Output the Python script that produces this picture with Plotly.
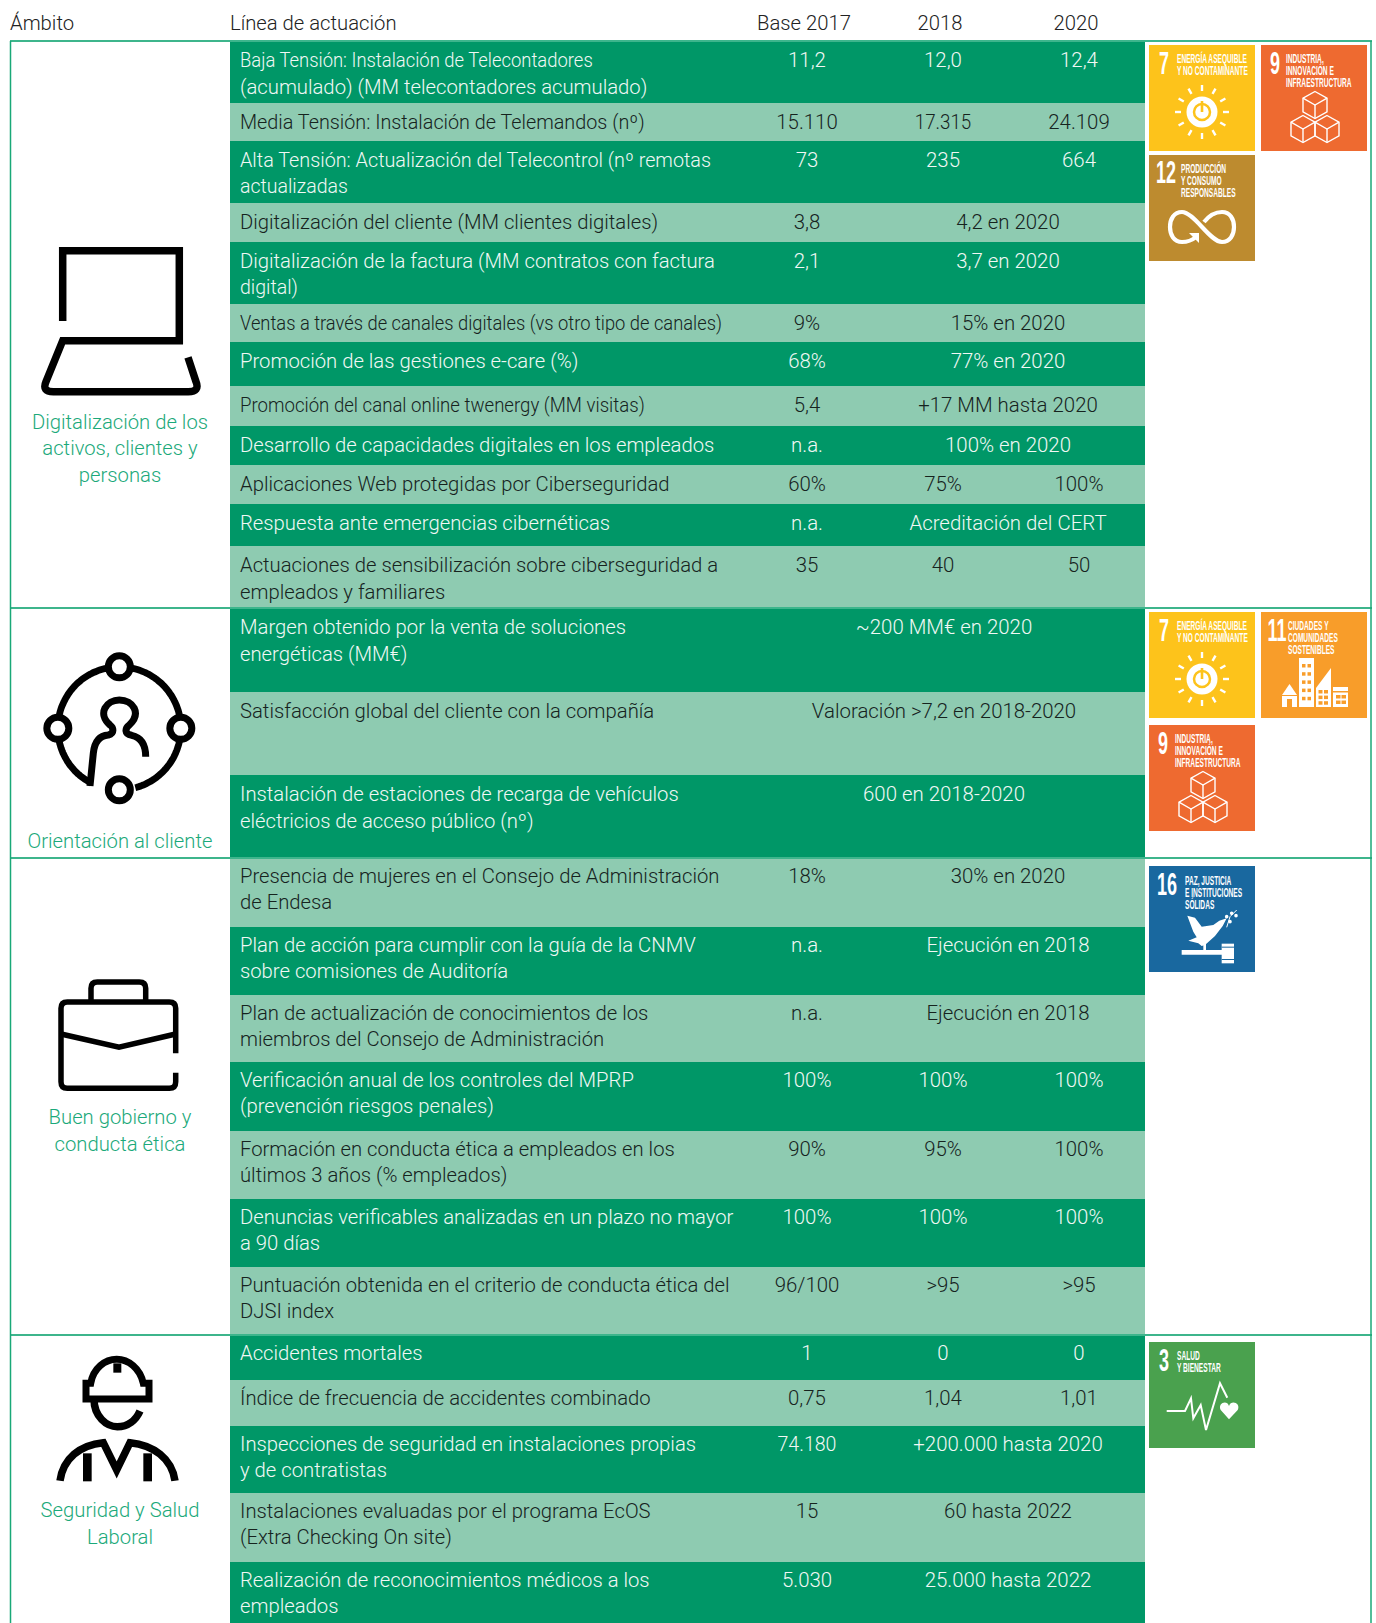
import json
import math
import plotly.graph_objects as go

# ---------- data ----------
headers = ["Ámbito", "Línea de actuación", "Base 2017", "2018", "2020"]
row_lines = [
    ["Baja Tensión: Instalación de Telecontadores", "(acumulado) (MM telecontadores acumulado)"],
    ["Media Tensión: Instalación de Telemandos (nº)"],
    ["Alta Tensión: Actualización del Telecontrol (nº remotas", "actualizadas"],
    ["Digitalización del cliente (MM clientes digitales)"],
    ["Digitalización de la factura (MM contratos con factura", "digital)"],
    ["Ventas a través de canales digitales (vs otro tipo de canales)"],
    ["Promoción de las gestiones e-care (%)"],
    ["Promoción del canal online twenergy (MM visitas)"],
    ["Desarrollo de capacidades digitales en los empleados"],
    ["Aplicaciones Web protegidas por Ciberseguridad"],
    ["Respuesta ante emergencias cibernéticas"],
    ["Actuaciones de sensibilización sobre ciberseguridad a", "empleados y familiares"],
    ["Margen obtenido por la venta de soluciones", "energéticas (MM€)"],
    ["Satisfacción global del cliente con la compañía"],
    ["Instalación de estaciones de recarga de vehículos", "eléctricios de acceso público (nº)"],
    ["Presencia de mujeres en el Consejo de Administración", "de Endesa"],
    ["Plan de acción para cumplir con la guía de la CNMV", "sobre comisiones de Auditoría"],
    ["Plan de actualización de conocimientos de los", "miembros del Consejo de Administración"],
    ["Verificación anual de los controles del MPRP", "(prevención riesgos penales)"],
    ["Formación en conducta ética a empleados en los", "últimos 3 años (% empleados)"],
    ["Denuncias verificables analizadas en un plazo no mayor", "a 90 días"],
    ["Puntuación obtenida en el criterio de conducta ética del", "DJSI index"],
    ["Accidentes mortales"],
    ["Índice de frecuencia de accidentes combinado"],
    ["Inspecciones de seguridad en instalaciones propias", "y de contratistas"],
    ["Instalaciones evaluadas por el programa EcOS", "(Extra Checking On site)"],
    ["Realización de reconocimientos médicos a los", "empleados"],
]
base_2017 = ["11,2", "15.110", "73", "3,8", "2,1", "9%", "68%", "5,4", "n.a.", "60%", "n.a.", "35",
             "", "", "", "18%", "n.a.", "n.a.", "100%", "90%", "100%", "96/100",
             "1", "0,75", "74.180", "15", "5.030"]
val_2018 = ["12,0", "17.315", "235", "", "", "", "", "", "", "75%", "", "40",
            "", "", "", "", "", "", "100%", "95%", "100%", ">95",
            "0", "1,04", "", "", ""]
val_2020 = ["12,4", "24.109", "664", "", "", "", "", "", "", "100%", "", "50",
            "", "", "", "", "", "", "100%", "100%", "100%", ">95",
            "0", "1,01", "", "", ""]
merged_18_20 = ["", "", "", "4,2 en 2020", "3,7 en 2020", "15% en 2020", "77% en 2020", "+17 MM hasta 2020",
                "100% en 2020", "", "Acreditación del CERT", "", "", "", "", "30% en 2020",
                "Ejecución en 2018", "Ejecución en 2018", "", "", "", "", "", "",
                "+200.000 hasta 2020", "60 hasta 2022", "25.000 hasta 2022"]
merged_all = [""] * 12 + ["~200 MM€ en 2020", "Valoración >7,2 en 2018-2020", "600 en 2018-2020"] + [""] * 12
section_labels = [
    ["Digitalización de los", "activos, clientes y", "personas"],
    ["Orientación al cliente"],
    ["Buen gobierno y", "conducta ética"],
    ["Seguridad y Salud", "Laboral"],
]

# ---------- layout constants ----------
W, H = 1376, 1623
row_edges = [41, 103, 141, 203, 242, 304, 342, 386, 426, 465, 504, 546, 608, 692, 775, 858,
             927, 995, 1062, 1131, 1199, 1267, 1335, 1380, 1426, 1493, 1562, 1623]
section_edges = [41, 608, 858, 1335]
section_label_y = [[424, 450, 477], [843], [1119, 1146], [1512, 1539]]
X0, X1 = 230, 1145
COL_BASE, COL_18, COL_20, COL_MERGED, COL_ALL = 807, 943, 1079, 1008, 944
TEXT_X = 240
DARK, LIGHT = "#009767", "#8ecbb1"
EDGE = "#3db58c"
LABEL = "#1ba97a"
FONT = "Roboto"
SIZE = 20.25
VAL_SIZE = 20.4
LINE = 26.9
# lines that the reference sets tighter than the rest: horizontal squeeze factor
squeeze = {
    "Baja Tensión: Instalación de Telecontadores": 0.91,
    "Ventas a través de canales digitales (vs otro tipo de canales)": 0.905,
    "Promoción del canal online twenergy (MM visitas)": 0.92,
    "17.315": 0.92,
    "74.180": 0.96,
}
size_override = {
    "Media Tensión: Instalación de Telemandos (nº)": 19.8,
    "Alta Tensión: Actualización del Telecontrol (nº remotas": 19.8,
    "actualizadas": 19.5,
    "digital)": 19.5,
}

def row_top(i):
    return row_edges[i] + (20.6 if i < 15 else 19.5)

fig = go.Figure()

# row bands
centers = [(a + b) / 2 for a, b in zip(row_edges, row_edges[1:])]
heights = [b - a for a, b in zip(row_edges, row_edges[1:])]
fig.add_trace(go.Bar(orientation="h", y=centers, width=heights, x=[X1 - X0] * len(centers), base=X0,
                     marker=dict(color=[DARK if i % 2 == 0 else LIGHT for i in range(len(centers))], line_width=0),
                     hoverinfo="skip"))

# row texts
def txtcol(i):
    return "#f1f8f5" if i % 2 == 0 else "#16231e"

tx, ty, tt, tc = [], [], [], []
for i, lines in enumerate(row_lines):
    for j, s in enumerate(lines):
        tx.append(TEXT_X); ty.append(row_top(i) + j * LINE); tt.append(s); tc.append(txtcol(i))
fig.add_trace(go.Scatter(x=tx, y=ty, text=tt, mode="text", textposition="middle right", hoverinfo="skip",
                         textfont=dict(family=FONT, size=[size_override.get(s, SIZE) for s in tt], color=tc, weight=300),
                         cliponaxis=False))

vx, vy, vt, vc = [], [], [], []
for col, arr in [(COL_BASE, base_2017), (COL_18, val_2018), (COL_20, val_2020),
                 (COL_MERGED, merged_18_20), (COL_ALL, merged_all)]:
    for i, s in enumerate(arr):
        if s:
            vx.append(col); vy.append(row_top(i)); vt.append(s); vc.append(txtcol(i))
fig.add_trace(go.Scatter(x=vx, y=vy, text=vt, mode="text", textposition="middle center", hoverinfo="skip",
                         textfont=dict(family=FONT, size=VAL_SIZE, color=vc, weight=300),
                         cliponaxis=False))

# headers
fig.add_trace(go.Scatter(x=[10, 230], y=[25, 25], text=headers[:2], mode="text", textposition="middle right",
                         hoverinfo="skip", textfont=dict(family=FONT, size=SIZE, color="#222222", weight=300)))
fig.add_trace(go.Scatter(x=[804, 940, 1076], y=[25, 25, 25], text=headers[2:], mode="text",
                         textposition="middle center", hoverinfo="skip",
                         textfont=dict(family=FONT, size=SIZE, color="#222222", weight=300)))

# section labels
lx, ly, lt = [], [], []
for lines, ys in zip(section_labels, section_label_y):
    for s, y in zip(lines, ys):
        lx.append(120); ly.append(y); lt.append(s)
fig.add_trace(go.Scatter(x=lx, y=ly, text=lt, mode="text", textposition="middle center", hoverinfo="skip",
                         textfont=dict(family=FONT, size=SIZE, color=LABEL, weight=300)))

# ---------- drawing helpers ----------
shapes = []

def P(pts, close=False):
    s = "M" + " L".join(f"{x:.1f},{y:.1f}" for x, y in pts)
    return s + (" Z" if close else "")

def stroke(path, w, color="#000000"):
    shapes.append(dict(type="path", path=path, xref="x", yref="y", layer="below",
                       line=dict(color=color, width=w), fillcolor="rgba(0,0,0,0)"))

def fill(path, color):
    shapes.append(dict(type="path", path=path, xref="x", yref="y", layer="below",
                       line=dict(width=0), fillcolor=color))

def rect(x0, y0, x1, y1, color):
    shapes.append(dict(type="rect", x0=x0, y0=y0, x1=x1, y1=y1, xref="x", yref="y", layer="below",
                       line=dict(width=0), fillcolor=color))

def circle(cx, cy, r, color=None, lw=0, lc="#000000"):
    shapes.append(dict(type="circle", x0=cx - r, x1=cx + r, y0=cy - r, y1=cy + r, xref="x", yref="y", layer="below",
                       line=dict(width=lw, color=lc), fillcolor=color or "rgba(0,0,0,0)"))

def arc(cx, cy, r, a0, a1, n=40):
    return [(cx + r * math.cos(math.radians(a0 + (a1 - a0) * k / n)),
             cy + r * math.sin(math.radians(a0 + (a1 - a0) * k / n))) for k in range(n + 1)]

def vline(x, y0, y1, c=EDGE, w=2):
    shapes.append(dict(type="line", x0=x, x1=x, y0=y0, y1=y1, xref="x", yref="y", layer="above", line=dict(color=c, width=w)))

def hline(y, x0, x1, c=EDGE, w=2):
    shapes.append(dict(type="line", x0=x0, x1=x1, y0=y, y1=y, xref="x", yref="y", layer="above", line=dict(color=c, width=w)))

# panel frame
for y in section_edges:
    hline(y, 10, 1372)
vline(10.5, 41, H, "#19a877", 1.5)
vline(1371, 41, H, "#19a877", 1.5)

# ---------- big icons ----------
Z = lambda ox, oy, x, y: (ox + x / 3, oy + y / 3)
def z4(x, y): return Z(0, 220, x, y)
def f(p): return f"{p[0]:.1f},{p[1]:.1f}"
stroke("M" + f(z4(188, 303)) + " L" + f(z4(188, 92)) + " L" + f(z4(538, 92)) + " L" + f(z4(538, 362)) + " L" + f(z4(188, 362))
       + " L" + f(z4(138, 485)) + " Q" + f(z4(125, 515)) + " " + f(z4(160, 515)) + " L" + f(z4(565, 515))
       + " Q" + f(z4(600, 515)) + " " + f(z4(588, 485)) + " L" + f(z4(564, 412)), 7.5)
cx, cy, R = 358 / 3, 630 + 295 / 3, 61.5
for nx, ny in [(0, -R), (-R, 0), (R, 0), (0, R)]:
    circle(cx + nx, cy + ny, 11, None, 7)
stroke(P(arc(cx, cy, R, -78, -12)), 6.8)
stroke(P(arc(cx, cy, R, 12, 75)), 6.8)
stroke(P(arc(cx, cy, R, 192, 258)), 6.8)
stroke(P(arc(cx, cy, R, 168, 117)), 6.8)
def z5(x, y): return Z(0, 630, x, y)
stroke("M" + f(z5(270, 468)) + " L" + f(z5(280, 370)) + " Q" + f(z5(285, 318)) + " " + f(z5(325, 315))
       + " C" + f(z5(345, 310)) + " " + f(z5(340, 292)) + " " + f(z5(330, 285))
       + " C" + f(z5(290, 250)) + " " + f(z5(320, 210)) + " " + f(z5(358, 210))
       + " C" + f(z5(400, 210)) + " " + f(z5(425, 250)) + " " + f(z5(388, 285))
       + " C" + f(z5(375, 295)) + " " + f(z5(372, 312)) + " " + f(z5(395, 316))
       + " Q" + f(z5(437, 325)) + " " + f(z5(437, 380)), 7)
def z6(x, y): return Z(0, 960, x, y)
stroke("M" + f(z6(527, 280)) + " L" + f(z6(527, 145)) + " Q" + f(z6(527, 126)) + " " + f(z6(508, 126))
       + " L" + f(z6(202, 126)) + " Q" + f(z6(183, 126)) + " " + f(z6(183, 145))
       + " L" + f(z6(183, 365)) + " Q" + f(z6(183, 385)) + " " + f(z6(202, 385))
       + " L" + f(z6(508, 385)) + " Q" + f(z6(527, 385)) + " " + f(z6(527, 365)) + " L" + f(z6(527, 338)), 5.5)
stroke("M" + f(z6(183, 222)) + " L" + f(z6(357, 262)) + " L" + f(z6(527, 222)), 5.5)
stroke("M" + f(z6(273, 122)) + " L" + f(z6(273, 85)) + " Q" + f(z6(273, 66)) + " " + f(z6(292, 66))
       + " L" + f(z6(418, 66)) + " Q" + f(z6(437, 66)) + " " + f(z6(437, 85)) + " L" + f(z6(437, 122)), 5.5)
def z7(x, y): return Z(0, 1330, x, y)
stroke("M" + f(z7(258, 207)) + " L" + f(z7(258, 160)) + " L" + f(z7(272, 160)) + " C" + f(z7(280, 115)) + " " + f(z7(315, 88)) + " " + f(z7(350, 88))
       + " C" + f(z7(385, 88)) + " " + f(z7(420, 115)) + " " + f(z7(430, 160)) + " L" + f(z7(447, 160)) + " L" + f(z7(447, 207)) + " Z", 7)
rect(*z7(340, 100), *z7(364, 128), "#000000")
stroke("M" + f(z7(282, 207)) + " C" + f(z7(282, 260)) + " " + f(z7(320, 290)) + " " + f(z7(352, 290))
       + " C" + f(z7(385, 290)) + " " + f(z7(408, 270)) + " " + f(z7(420, 243)), 7.5)
stroke("M" + f(z7(180, 452)) + " C" + f(z7(190, 385)) + " " + f(z7(240, 345)) + " " + f(z7(310, 338))
       + " L" + f(z7(350, 420)) + " L" + f(z7(390, 338))
       + " C" + f(z7(460, 345)) + " " + f(z7(515, 385)) + " " + f(z7(525, 452)), 7.5)
rect(*z7(249, 370), *z7(275, 454), "#000000")
rect(*z7(430, 370), *z7(456, 454), "#000000")

# ---------- SDG tiles ----------
SDG = {
    7: ("#fdc31b", ["ENERGÍA ASEQUIBLE", "Y NO CONTAMINANTE"]),
    9: ("#ee6a30", ["INDUSTRIA,", "INNOVACIÓN E", "INFRAESTRUCTURA"]),
    12: ("#bd8b2f", ["PRODUCCIÓN", "Y CONSUMO", "RESPONSABLES"]),
    11: ("#f89d2a", ["CIUDADES Y", "COMUNIDADES", "SOSTENIBLES"]),
    16: ("#19689f", ["PAZ, JUSTICIA", "E INSTITUCIONES", "SÓLIDAS"]),
    3: ("#4aa14e", ["SALUD", "Y BIENESTAR"]),
}
TILE = 106
WHITE = "#ffffff"

def icon_sun(o, p, col):
    c = (o + 53, p + 67)
    circle(*c, 15.5, WHITE)
    circle(*c, 8, None, 2.5, col)
    rect(c[0] - 1.3, c[1] - 11, c[0] + 1.3, c[1] + 0, col)
    for a in range(0, 360, 30):
        stroke(P(arc(c[0], c[1], 21, a, a, 1)[:1] + arc(c[0], c[1], 27, a, a, 1)[:1]), 2.4, WHITE)

def icon_cubes(o, p, col):
    for cxx, cyy in [(o + 54, p + 60), (o + 42, p + 84), (o + 66, p + 84)]:
        rx, ry = 12, 13.5
        hexa = [(cxx, cyy - ry), (cxx + rx, cyy - ry / 2), (cxx + rx, cyy + ry / 2), (cxx, cyy + ry),
                (cxx - rx, cyy + ry / 2), (cxx - rx, cyy - ry / 2)]
        stroke(P(hexa, True), 1.4, WHITE)
        stroke(P([(cxx - rx, cyy - ry / 2), (cxx, cyy), (cxx + rx, cyy - ry / 2)]), 1.4, WHITE)
        stroke(P([(cxx, cyy), (cxx, cyy + ry)]), 1.4, WHITE)

def icon_inf(o, p, col):
    x, y = o + 53, p + 72
    def q(a, b): return f"{x + a:.1f},{y + b:.1f}"
    stroke("M" + q(-6, 10) + " C" + q(-12, 15) + " " + q(-18, 15) + " " + q(-20, 15)
           + " C" + q(-28, 15) + " " + q(-32, 8) + " " + q(-32, 0)
           + " C" + q(-32, -8) + " " + q(-28, -15) + " " + q(-20, -15)
           + " C" + q(-8, -15) + " " + q(8, 15) + " " + q(20, 15)
           + " C" + q(28, 15) + " " + q(32, 8) + " " + q(32, 0)
           + " C" + q(32, -8) + " " + q(28, -15) + " " + q(20, -15)
           + " C" + q(12, -15) + " " + q(6, -10) + " " + q(2, -5), 4.2, WHITE)
    fill("M" + q(-13, 6) + " L" + q(-3, 6) + " L" + q(-3, 16) + " Z", WHITE)

def icon_city(o, p, col):
    b = p + 95
    fill(P([(o + 21, p + 83), (o + 28.5, p + 72), (o + 36, p + 83)], True), WHITE)
    rect(o + 21, p + 84, o + 36, b, WHITE)
    rect(o + 26, p + 87, o + 31, b, col)
    rect(o + 38, p + 46, o + 53, b, WHITE)
    for r_ in range(5):
        for c_ in range(2):
            rect(o + 41 + c_ * 5.5, p + 52 + r_ * 8.2, o + 44.5 + c_ * 5.5, p + 55.5 + r_ * 8.2, col)
    fill(P([(o + 55, p + 76), (o + 70, p + 56), (o + 70, b), (o + 55, b)], True), WHITE)
    for r_ in range(3):
        for c_ in range(2):
            rect(o + 57.5 + c_ * 5.5, p + 78 + r_ * 5.6, o + 61.5 + c_ * 5.5, p + 81.5 + r_ * 5.6, col)
    rect(o + 72, p + 75, o + 87, b, WHITE)
    rect(o + 72, p + 79, o + 87, p + 80.5, col)
    for r_ in range(2):
        for c_ in range(2):
            rect(o + 75 + c_ * 5.5, p + 83 + r_ * 5.5, o + 79.5 + c_ * 5.5, p + 86.5 + r_ * 5.5, col)

def icon_dove(o, p, col):
    def q(x, y): return (o + (x - 57) / 3, p + (y - 48) / 3)
    fill(P([q(*pt) for pt in [(172, 197), (195, 203), (215, 230), (250, 225), (268, 212), (290, 205), (278, 228),
                              (255, 258), (225, 285), (215, 288), (205, 280), (175, 272), (200, 262), (190, 245)]], True), WHITE)
    stroke(P([q(290, 232), q(300, 200), q(320, 180)]), 1, WHITE)
    for a, b in [(290, 200), (305, 190), (318, 197), (300, 215)]:
        circle(*q(a, b), 1.8, WHITE)
    rect(*q(220, 280), *q(228, 300), WHITE)
    rect(*q(155, 300), *q(278, 314), WHITE)
    rect(*q(275, 281), *q(312, 340), WHITE)
    rect(*q(275, 290), *q(312, 293), col)
    rect(*q(275, 327), *q(312, 330), col)

def icon_heart(o, p, col):
    def q(x, y): return (o + (x - 57) / 3, p + (y - 36) / 3)
    stroke(P([q(*pt) for pt in [(110, 243), (165, 243), (183, 205), (190, 265), (212, 225), (228, 300), (270, 160), (292, 203)]]), 2, WHITE)
    a = q(297, 268); c = q(297, 228)
    fill("M" + f(a) + " L" + f(q(272, 240)) + " C" + f(q(262, 218)) + " " + f(q(292, 208)) + " " + f(c)
         + " C" + f(q(302, 208)) + " " + f(q(334, 218)) + " " + f(q(323, 240)) + " Z", WHITE)

ICONS = {7: icon_sun, 9: icon_cubes, 12: icon_inf, 11: icon_city, 16: icon_dove, 3: icon_heart}

tile_positions = [  # goal, left, top, number-x, number-y, text-x, first-line-y
    (7, 1149, 45, 15, 21, 28, 15), (9, 1261, 45, 14, 21, 25, 15), (12, 1149, 155, 17, 20, 32, 15),
    (7, 1149, 612, 15, 21, 28, 15), (11, 1261, 612, 16, 21, 27, 15), (9, 1149, 725, 14, 21, 26, 15),
    (16, 1149, 866, 18, 21, 36, 16),
    (3, 1149, 1342, 15, 21, 28, 15),
]
num_x, num_y, num_t, cap_x, cap_y, cap_t = [], [], [], [], [], []
for g, l, t, nx, ny, tx_, ty_ in tile_positions:
    col, lines = SDG[g]
    rect(l, t, l + TILE, t + TILE, col)
    ICONS[g](l, t, col)
    num_x.append(l + nx); num_y.append(t + ny); num_t.append(str(g))
    for k, s in enumerate(lines):
        cap_x.append(l + tx_); cap_y.append(t + ty_ + k * 12); cap_t.append(s)

fig.add_trace(go.Scatter(x=num_x, y=num_y, text=num_t, mode="text", textposition="middle center", hoverinfo="skip",
                         textfont=dict(family="Liberation Sans", size=31, color=WHITE, weight=700)))
fig.add_trace(go.Scatter(x=cap_x, y=cap_y, text=cap_t, mode="text", textposition="middle right", hoverinfo="skip",
                         textfont=dict(family="Liberation Sans", size=12, color=WHITE, weight=700)))

fig.update_layout(
    width=W, height=H, margin=dict(l=0, r=0, t=0, b=0), showlegend=False,
    paper_bgcolor="white", plot_bgcolor="white", barmode="overlay",
    xaxis=dict(range=[0, W], visible=False, fixedrange=True),
    yaxis=dict(range=[H, 0], visible=False, fixedrange=True),
    shapes=shapes,
)
# SDG tile captions use a condensed cut and a few table lines are set tight: squeeze those real texts
post = """
document.body.style.margin='0';document.documentElement.style.overflow='hidden';
var SQ=%s;
document.querySelectorAll('.textpoint text').forEach(function(t){
  var k=null, c=t.textContent, ff=t.style.fontFamily||'';
  if(ff.indexOf('Liberation')>=0){k=(parseFloat(t.style.fontSize)>20)?0.58:0.55;}
  else if(SQ[c]){k=SQ[c];}
  if(k){var x=parseFloat(t.getAttribute('x'))||0;
    t.setAttribute('transform','translate('+x+',0) scale('+k+',1) translate('+(-x)+',0)');}
});
""" % json.dumps(squeeze, ensure_ascii=False)
fig.write_html("out.html", post_script=post, config={"displayModeBar": False})
